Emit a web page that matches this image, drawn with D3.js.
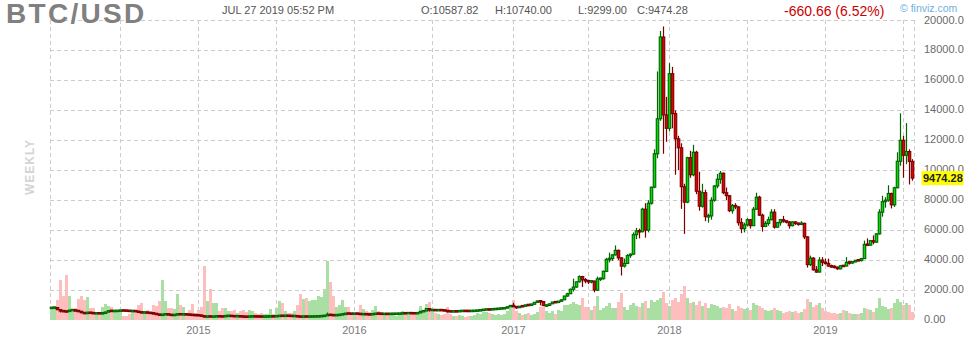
<!DOCTYPE html>
<html>
<head>
<meta charset="utf-8">
<script src="https://cdn.jsdelivr.net/npm/d3@7"></script>
<style>
  body { margin: 0; background: #fff; }
  svg { display: block; font-family: "Liberation Sans", Arial, sans-serif; }
</style>
</head>
<body>
<svg width="964" height="340"></svg>
<script>
// weekly BTC/USD bars, Sunday weeks from Jan 19 2014 to Jul 21 2019
const firstWeek = new Date(2014, 0, 19);
const lastWeek = new Date(2019, 6, 21);
const firstOpen = 800;

const closes = [
  820, 830, 690, 600, 580, 560, 660, 665, 610, 585,
  480, 445, 500, 470, 445, 450, 440, 450, 525, 620,
  600, 605, 610, 640, 630, 620, 600, 605, 585, 520,
  500, 510, 480, 475, 410, 395, 320, 375, 390, 355,
  325, 345, 395, 375, 380, 370, 355, 330, 320, 315,
  270, 210, 250, 225, 230, 255, 240, 235, 275, 285,
  260, 250, 255, 235, 225, 220, 240, 242, 237, 235,
  230, 232, 235, 245, 243, 260, 290, 275, 290, 280,
  265, 268, 230, 225, 235, 230, 232, 235, 240, 245,
  265, 290, 360, 330, 320, 325, 360, 390, 435, 430,
  420, 430, 425, 380, 400, 375, 372, 395, 435, 425,
  410, 412, 408, 416, 418, 420, 428, 455, 450, 460,
  455, 440, 470, 575, 600, 760, 665, 670, 650, 665,
  655, 625, 585, 570, 580, 575, 605, 608, 606, 600,
  610, 615, 640, 655, 700, 705, 700, 730, 735, 765,
  775, 790, 890, 960, 900, 820, 920, 915, 1010, 995,
  1050, 1180, 1270, 1230, 960, 970, 1080, 1200, 1180, 1250,
  1350, 1600, 1750, 2050, 2200, 2550, 2900, 2680, 2620, 2560,
  2600, 2000, 2750, 2760, 3250, 4050, 4100, 4350, 4650, 4150,
  3600, 3780, 4300, 4400, 5700, 5950, 5900, 7400, 6000, 7800,
  8870, 11100, 13440, 18900, 13700, 12800, 16450, 13780, 12100, 11500,
  8900, 7870, 10840, 9700, 11200, 8600, 7600, 8500, 6900, 6950,
  8000, 8950, 9400, 9800, 8500, 8300, 7300, 7650, 7550, 6500,
  6100, 6350, 6700, 6300, 7400, 8200, 7000, 6250, 6450, 6700,
  7200, 6200, 6500, 6700, 6600, 6550, 6300, 6550, 6450, 6400,
  6450, 5550, 3700, 4130, 3350, 3200, 4000, 3850, 3780, 3600,
  3560, 3530, 3420, 3620, 3600, 3850, 3830, 3880, 3990, 3980,
  4100, 5050, 5000, 5300, 5200, 5750, 7200, 7900, 8000, 8450,
  7690, 8830, 10600, 12000, 11000, 11250, 10587.82, 9474.28
];

const highs = [
  870, 850, 840, 710, 650, 600, 700, 680, 665, 620,
  590, 490, 540, 510, 470, 465, 455, 460, 530, 630,
  665, 615, 620, 650, 645, 635, 625, 610, 610, 590,
  525, 520, 510, 490, 480, 420, 400, 410, 400, 395,
  360, 350, 460, 400, 390, 385, 375, 360, 335, 325,
  318, 275, 260, 255, 240, 265, 260, 245, 280, 300,
  290, 265, 260, 258, 240, 228, 245, 245, 245, 240,
  238, 235, 240, 252, 250, 265, 310, 295, 300, 295,
  285, 272, 270, 235, 240, 240, 236, 240, 244, 248,
  270, 300, 500, 380, 340, 335, 370, 400, 470, 460,
  445, 440, 465, 440, 410, 405, 380, 400, 440, 445,
  440, 420, 418, 420, 425, 425, 432, 465, 465, 465,
  462, 458, 475, 580, 610, 780, 770, 700, 680, 680,
  670, 660, 630, 595, 585, 585, 610, 612, 612, 610,
  612, 620, 645, 660, 710, 740, 720, 745, 745, 770,
  780, 795, 900, 980, 1150, 910, 930, 930, 1020, 1020,
  1060, 1190, 1290, 1330, 1250, 1050, 1100, 1210, 1220, 1270,
  1360, 1620, 1820, 2100, 2760, 2560, 2980, 2950, 2800, 2650,
  2650, 2620, 2900, 2830, 3300, 4150, 4500, 4400, 4980, 4700,
  4200, 4100, 4400, 4450, 5850, 6150, 6100, 7500, 7800, 8000,
  8900, 11400, 16600, 19300, 19600, 14900, 17150, 16900, 14000, 12300,
  11800, 9100, 10900, 11300, 11700, 11300, 9900, 9100, 8700, 7100,
  8200, 9000, 9750, 9950, 9850, 8850, 8350, 7750, 7800, 7600,
  6800, 6500, 6800, 6750, 7550, 8500, 8300, 7100, 6600, 6900,
  7400, 7400, 6550, 6750, 6950, 6650, 6600, 6600, 6600, 6500,
  6600, 6500, 5600, 4300, 4200, 3600, 4200, 4200, 4100, 4100,
  3700, 3650, 3560, 3680, 3650, 4200, 3950, 3920, 4000, 4050,
  4150, 5300, 5450, 5350, 5650, 5800, 7400, 8300, 8200, 9000,
  8500, 8900, 11200, 13800, 12300, 13150, 11400, 10740
];

const lows = [
  790, 760, 660, 500, 560, 530, 550, 610, 590, 560,
  450, 400, 440, 440, 420, 430, 430, 435, 445, 520,
  590, 570, 590, 600, 615, 610, 590, 580, 570, 500,
  460, 490, 470, 460, 400, 380, 290, 310, 360, 345,
  320, 320, 340, 360, 365, 360, 340, 315, 310, 310,
  260, 170, 200, 215, 210, 225, 235, 230, 230, 270,
  255, 240, 245, 230, 218, 215, 218, 235, 232, 230,
  226, 224, 228, 232, 240, 240, 258, 270, 272, 275,
  260, 258, 200, 210, 222, 225, 226, 228, 232, 236,
  243, 262, 285, 300, 305, 310, 320, 355, 385, 420,
  410, 415, 420, 360, 370, 365, 365, 368, 390, 415,
  400, 405, 400, 405, 410, 412, 418, 425, 440, 445,
  448, 435, 438, 465, 565, 595, 560, 620, 640, 640,
  645, 620, 500, 560, 565, 565, 570, 600, 600, 595,
  598, 605, 612, 635, 650, 690, 690, 695, 720, 730,
  755, 770, 785, 880, 880, 750, 810, 890, 910, 930,
  990, 1040, 1170, 980, 940, 890, 960, 1070, 1160, 1170,
  1240, 1340, 1550, 1740, 1900, 2150, 2500, 2200, 2450, 2400,
  2450, 1850, 1950, 2600, 2700, 3200, 3850, 3950, 4300, 4000,
  2970, 3500, 3750, 4150, 4350, 5400, 5450, 5850, 5500, 5850,
  7700, 8800, 10800, 13300, 11100, 11900, 12600, 12800, 9700, 10000,
  7420, 5750, 7800, 9500, 9600, 8400, 7300, 7500, 6600, 6500,
  6700, 7900, 8800, 9100, 8400, 8000, 7200, 7100, 7400, 6300,
  5800, 5850, 6250, 6100, 6300, 7350, 6950, 5900, 6200, 6300,
  6650, 6100, 6150, 6300, 6500, 6450, 6100, 6250, 6350, 6300,
  6350, 5400, 3500, 3600, 3300, 3150, 3180, 3600, 3700, 3550,
  3500, 3450, 3350, 3380, 3550, 3590, 3700, 3750, 3850, 3930,
  3900, 4100, 4950, 4950, 5050, 5150, 5700, 6900, 7500, 7900,
  7450, 7550, 8800, 10300, 9500, 10400, 9050, 9299
];

// volume, in thousands
const volumes = [
  13, 14, 20, 40, 24, 45, 24, 10, 12, 21,
  24, 20, 23, 12, 12, 8, 5, 13, 16, 14,
  13, 8, 8, 8, 4, 4, 6, 8, 10, 15,
  17, 7, 10, 8, 15, 14, 19, 40, 19, 12,
  12, 11, 26, 15, 13, 7, 10, 16, 7, 10,
  13, 54, 19, 31, 17, 17, 9, 12, 12, 9,
  9, 10, 7, 9, 10, 8, 10, 9, 7, 6,
  7, 6, 6, 11, 6, 12, 19, 17, 9, 7,
  7, 9, 15, 26, 21, 22, 19, 20, 20, 24,
  23, 31, 59, 38, 24, 13, 15, 20, 13, 13,
  6, 7, 7, 15, 11, 9, 8, 10, 14, 9,
  8, 6, 5, 6, 5, 4, 5, 9, 6, 5,
  6, 5, 8, 14, 10, 16, 18, 9, 7, 6,
  5, 6, 13, 6, 4, 4, 5, 4, 3, 4,
  4, 5, 7, 6, 8, 8, 7, 6, 5, 6,
  5, 6, 9, 12, 20, 9, 7, 5, 6, 7,
  5, 6, 8, 13, 13, 9, 7, 9, 6, 10,
  9, 15, 15, 16, 18, 16, 15, 22, 13, 13,
  10, 14, 24, 10, 12, 14, 17, 12, 12, 18,
  27, 13, 10, 15, 17, 14, 13, 17, 19, 12,
  20, 18, 20, 22, 28, 17, 14, 20, 22, 18,
  26, 34, 22, 17, 18, 15, 19, 14, 17, 12,
  16, 15, 14, 12, 13, 12, 16, 11, 9, 14,
  12, 11, 12, 10, 17, 15, 14, 12, 10, 9,
  10, 12, 10, 9, 7, 8, 9, 8, 9, 7,
  8, 11, 21, 18, 13, 15, 17, 12, 9, 8,
  7, 7, 6, 7, 10, 9, 7, 6, 6, 6,
  7, 12, 11, 10, 8, 12, 22, 14, 13, 11,
  12, 17, 21, 18, 15, 17, 15, 8
];

const priceTicks = [0, 2000, 4000, 6000, 8000, 10000, 12000, 14000, 16000, 18000, 20000];
const yearLabels = ["2015", "2016", "2017", "2018", "2019"];

const symbol = "BTC/USD";
const stamp = "JUL 27 2019 05:52 PM";
const ohlcText = ["O:10587.82", "H:10740.00", "L:9299.00", "C:9474.28"];
const changeText = "-660.66 (6.52%)";

const svg = d3.select("svg");

const weeks = d3.timeWeek.range(firstWeek, d3.timeDay.offset(lastWeek, 1));
const bars = weeks.map((d, i) => ({
  i: i,
  date: d,
  open: i ? closes[i - 1] : firstOpen,
  close: closes[i],
  high: highs[i],
  low: lows[i],
  volume: volumes[i]
}));

const x = d3.scaleBand().domain(bars.map(d => d.i)).range([50, 914]);
const y = d3.scaleLinear().domain([0, 20000]).range([320, 20.5]);
const yVol = d3.scaleLinear().domain([0, 60]).range([320, 260]);
const cx = i => x(i) + x.bandwidth() / 2;
const up = d => d.close >= d.open;

// bar holding a given day
function barOf(day) {
  return bars.find(b => b.date <= day && day < d3.timeDay.offset(b.date, 7));
}

// volume
svg.append("g")
  .selectAll("rect")
  .data(bars)
  .enter().append("rect")
    .attr("x", d => x(d.i))
    .attr("width", x.bandwidth())
    .attr("y", d => yVol(d.volume))
    .attr("height", d => yVol(0) - yVol(d.volume))
    .attr("fill", d => up(d) ? "#aadfa4" : "#ffbebe");

// grid
const grid = svg.append("g")
    .attr("stroke", "#cccccc")
    .attr("stroke-dasharray", "4,3")
    .attr("fill", "none");

grid.selectAll("line.h")
  .data(priceTicks.slice(1))
  .enter().append("line")
    .attr("x1", 50).attr("x2", 916)
    .attr("y1", d => Math.floor(y(d)) + 0.5)
    .attr("y2", d => Math.floor(y(d)) + 0.5);

const marks = [];
for (let yr = 2014; yr <= 2019; yr++) {
  [new Date(yr, 0, 1), new Date(yr, 6, 1)].forEach(day => {
    const b = barOf(day);
    if (b) marks.push({bar: b, year: day.getMonth() === 0 ? yr : null});
  });
}

grid.selectAll("line.v")
  .data(marks)
  .enter().append("line")
    .attr("x1", d => Math.floor(cx(d.bar.i)) + 0.5)
    .attr("x2", d => Math.floor(cx(d.bar.i)) + 0.5)
    .attr("y1", 20).attr("y2", 320);

grid.selectAll("line.b")
  .data([50.5, 914.5])
  .enter().append("line")
    .attr("x1", d => d).attr("x2", d => d)
    .attr("y1", 20).attr("y2", 320);

// candles
const candle = svg.append("g")
  .selectAll("g")
  .data(bars)
  .enter().append("g");

candle.append("line")
    .attr("x1", d => cx(d.i)).attr("x2", d => cx(d.i))
    .attr("y1", d => y(d.high)).attr("y2", d => y(d.low))
    .attr("stroke", d => up(d) ? "#006400" : "#7a0000")
    .attr("stroke-width", 1.2);

candle.append("rect")
    .attr("x", d => cx(d.i) - 1.25)
    .attr("width", 2.5)
    .attr("y", d => Math.min(y(Math.max(d.open, d.close)), (y(d.open) + y(d.close)) / 2 - 0.75))
    .attr("height", d => Math.max(1.5, Math.abs(y(d.open) - y(d.close))))
    .attr("fill", d => up(d) ? "#00dd00" : "#e00000")
    .attr("stroke", d => up(d) ? "#006400" : "#7a0000")
    .attr("stroke-width", 1.1);

// right axis
svg.append("g")
  .selectAll("text")
  .data(priceTicks)
  .enter().append("text")
    .attr("x", 924)
    .attr("y", d => y(d) + 3)
    .attr("font-size", 11)
    .attr("fill", "#6a6a6a")
    .text(d3.format(".2f"));

// last price tag
const last = bars[bars.length - 1];
svg.append("rect")
    .attr("x", 921.5).attr("width", 42)
    .attr("y", y(last.close) - 7).attr("height", 14)
    .attr("fill", "#ffff00");
svg.append("text")
    .attr("x", 923).attr("y", y(last.close) + 4)
    .attr("font-size", 11).attr("font-weight", "bold")
    .attr("fill", "#222")
    .text(d3.format(".2f")(last.close));

// year labels
svg.append("g")
  .selectAll("text")
  .data(marks.filter(d => d.year && yearLabels.includes(String(d.year))))
  .enter().append("text")
    .attr("x", d => cx(d.bar.i))
    .attr("y", 334)
    .attr("text-anchor", "middle")
    .attr("font-size", 11)
    .attr("fill", "#7a7a7a")
    .text(d => d.year);

// WEEKLY
svg.append("text")
    .attr("transform", "translate(33.5,167) rotate(-90)")
    .attr("text-anchor", "middle")
    .attr("font-size", 12).attr("font-weight", "bold")
    .attr("letter-spacing", 1)
    .attr("fill", "#d4d4d4")
    .text("WEEKLY");

// header
svg.append("text")
    .attr("x", 6).attr("y", 23)
    .attr("font-size", 28).attr("font-weight", "bold")
    .attr("letter-spacing", 2.3)
    .attr("fill", "#808080")
    .text(symbol);

svg.append("text")
    .attr("x", 222).attr("y", 14)
    .attr("font-size", 11).attr("fill", "#555")
    .text(stamp);

svg.append("g")
  .selectAll("text")
  .data(ohlcText)
  .enter().append("text")
    .attr("x", (d, i) => [421, 495, 578, 637][i])
    .attr("y", 14)
    .attr("font-size", 11).attr("fill", "#555")
    .text(d => d);

svg.append("text")
    .attr("x", 784).attr("y", 16)
    .attr("font-size", 14).attr("fill", "#cc0000")
    .text(changeText);

svg.append("text")
    .attr("x", 900).attr("y", 12)
    .attr("font-size", 10.5).attr("fill", "#6fb0e0")
    .text("\u00a9 finviz.com");
</script>
</body>
</html>
